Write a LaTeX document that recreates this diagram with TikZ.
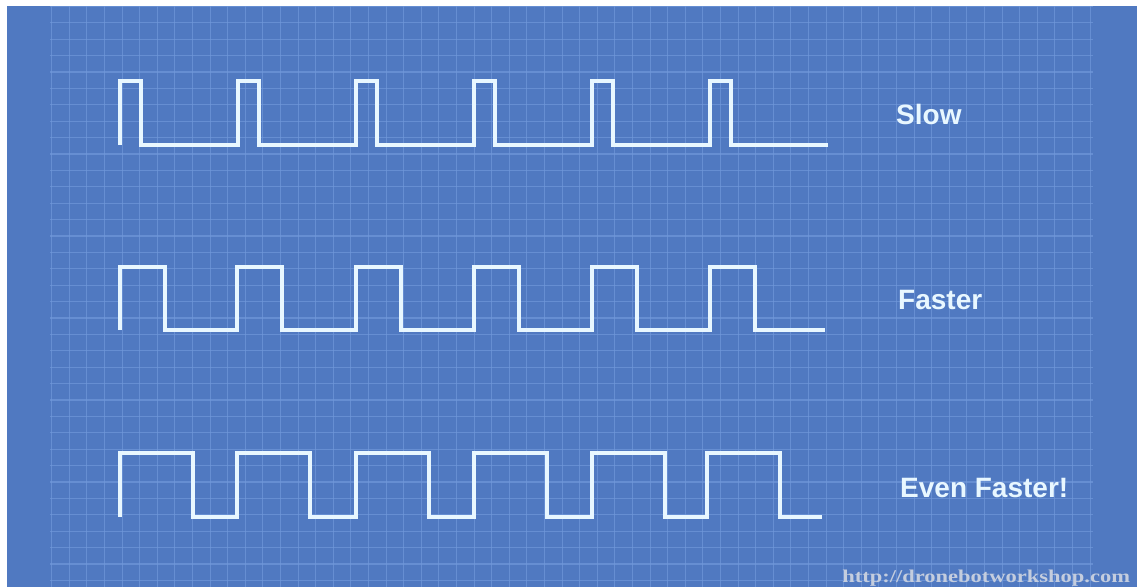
\documentclass[tikz,border=0pt]{standalone}
\usepackage{fontspec}
\setmainfont{Liberation Sans}
\newfontfamily\urlfont{Liberation Serif}
\definecolor{bpblue}{RGB}{80,121,193}
\definecolor{gridc}{RGB}{112,152,218}
\definecolor{wavec}{RGB}{232,247,255}
\definecolor{urlc}{RGB}{196,205,222}
\tikzset{
  wave/.style={draw=wavec, line width=3.2pt, line join=miter, line cap=butt},
  speedlabel/.style={anchor=base west, inner sep=0pt, text=wavec, font=\fontsize{28}{28}\selectfont\bfseries},
  gridline/.style={draw=gridc, line width=1.1pt, opacity=0.7}
}
\begin{document}
\begin{tikzpicture}[x=1pt,y=-1pt]
\useasboundingbox (0,0) rectangle (1137,587);
\fill[white] (0,0) rectangle (1137,587);
\fill[bpblue] (7,6) rectangle (1137,587);
% grid
\foreach \k in {0,...,59} {
  \draw[gridline] ({51.7+17.6*\k},6) -- ({51.7+17.6*\k},587);
}
\foreach \k in {0,...,35} {
  \draw[gridline] (50,{6.4+16.4*\k}) -- (1093,{6.4+16.4*\k});
}
% waveforms
\draw[wave] (120,145) \foreach \r in {120,238,356,474,592,710} {
  -- (\r,145) -- (\r,81) -- (\r+21,81) -- (\r+21,145) } -- (828,145);
\draw[wave] (120,330) \foreach \r in {120,237,356,474,592,710} {
  -- (\r,330) -- (\r,267) -- (\r+45,267) -- (\r+45,330) } -- (825,330);
\draw[wave] (120,517) \foreach \r in {120,237,356,474,592,707} {
  -- (\r,517) -- (\r,453) -- (\r+73,453) -- (\r+73,517) } -- (822,517);
% labels
\node[speedlabel] (slow) at (896,124) {Slow};
\node[speedlabel] (faster) at (898,309) {Faster};
\node[speedlabel] (evenfaster) at (900,497) {Even Faster!};
\node[anchor=base west, inner sep=0pt, text=urlc, xscale=1.25,
  font=\urlfont\fontsize{18}{18}\selectfont\bfseries] (url) at (842,582) {http://dronebotworkshop.com};
\end{tikzpicture}
\end{document}
